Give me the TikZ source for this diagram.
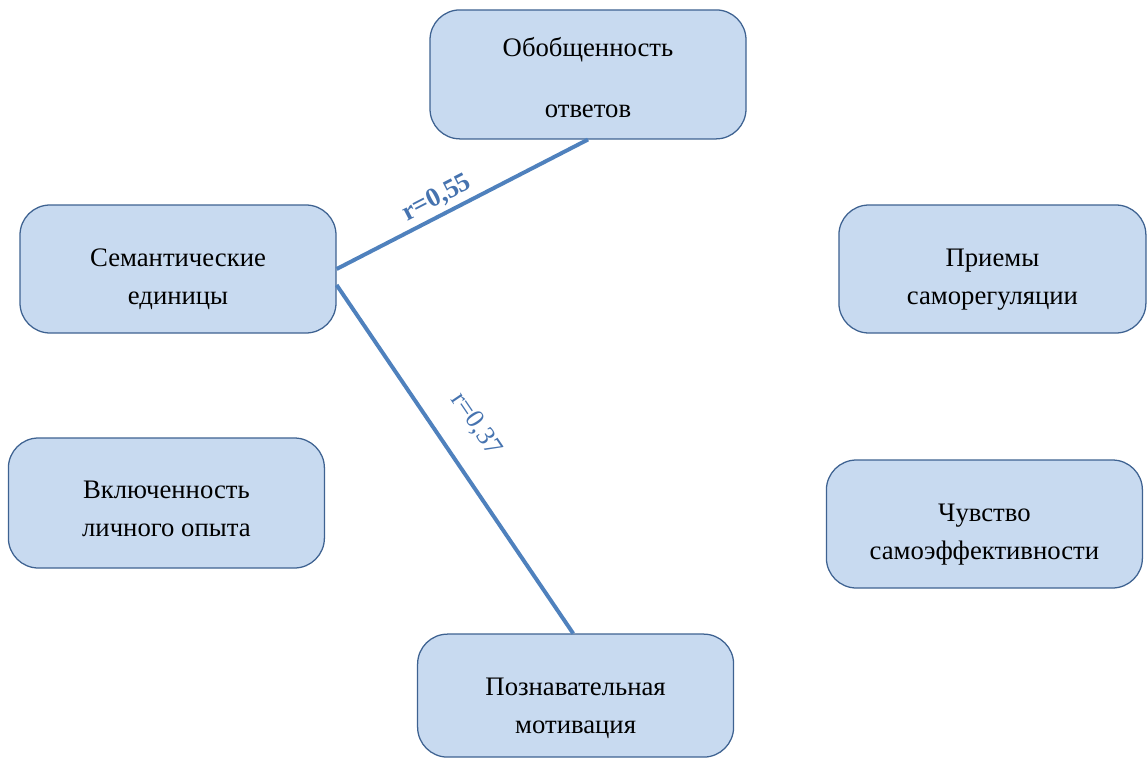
\documentclass[tikz,border=0pt]{standalone}
\usepackage{fontspec}
\setmainfont{Liberation Serif}
\usetikzlibrary{positioning}
\definecolor{BoxFill}{RGB}{200, 218, 240}
\definecolor{BoxBorder}{RGB}{62, 98, 145}
\definecolor{LinkBlue}{RGB}{79, 129, 189}
\definecolor{LabelBlue}{RGB}{70, 115, 175}

\begin{document}
\begin{tikzpicture}[
    font=\fontsize{19}{27}\selectfont,
    factor/.style={
        draw=BoxBorder,            % darker blue border
        fill=BoxFill,              % light blue background
        rounded corners=0.75cm,
        align=center,
        minimum width=7.9cm,
        minimum height=3.2cm,
        text height=54pt,          % sits the text a bit low, as in the source
        line width=0.9pt
    },
    link/.style={
        draw=LinkBlue,
        line width=2.8pt
    },
    coef/.style={
        sloped,
        inner sep=3pt,
        text=LabelBlue
    }
]

    % --- 0. Canvas ---
    \useasboundingbox (0,0) rectangle (28.7,-19);

    % --- 1. Factors ---
    \node[factor, minimum height=3.225cm, text height=62pt] (general) at (14.7,-1.86) {Обобщенность\\[16.5pt]ответов};
    \node[factor] (semantic) at (4.45,-6.725) {Семантические\\единицы};
    \node[factor, minimum width=7.675cm] (regulation) at (24.81,-6.725) {Приемы\\саморегуляции};
    \node[factor, minimum height=3.25cm, text height=48pt] (experience) at (4.16,-12.575) {Включенность\\личного опыта};
    \node[factor, text height=55pt] (efficacy) at (24.61,-13.1) {Чувство\\самоэффективности};
    \node[factor, minimum height=3.075cm, text height=58pt] (motivation) at (14.39,-17.39) {Познавательная\\мотивация};

    % --- 2. Correlations ---
    \draw[link] (semantic.east) -- node[coef, above, pos=0.43, font=\fontsize{19}{27}\selectfont\bfseries] {r=0,55} (general.south);
    \draw[link] ([yshift=-0.4cm]semantic.east) -- node[coef, above=0.5cm, pos=0.46] {r=0,37} ([xshift=-0.06cm]motivation.north);

\end{tikzpicture}
\end{document}
